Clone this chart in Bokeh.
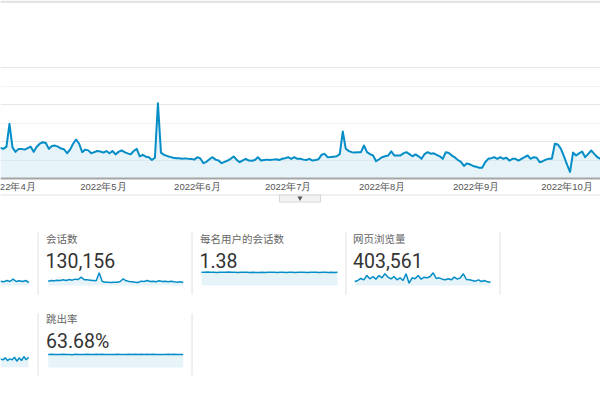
import pandas as pd
from bokeh.plotting import figure
from bokeh.layouts import column
from bokeh.models import Range1d, FixedTicker, Grid, BoxAnnotation, ColumnDataSource, Span
from bokeh.core.properties import value
from bokeh.embed import file_html
from bokeh.resources import INLINE

# ---------------- data ----------------
start_date = "2022-03-28"
users = [
    415, 400, 430, 739,
    420, 360, 400, 400, 390, 410, 430, 360, 430, 470,
    490, 480, 400, 440, 445, 430, 405, 395, 341, 390,
    470, 527, 470, 356, 390, 380, 341, 356, 371, 365,
    350, 371, 341, 371, 326, 360, 380, 356, 340, 326,
    371, 401, 300, 320, 295, 288, 250, 280, 1017, 350,
    320, 305, 292, 280, 275, 273, 268, 272, 268, 265,
    255, 288, 270, 207, 225, 260, 288, 255, 243, 207,
    225, 243, 266, 297, 252, 220, 245, 266, 243, 240,
    250, 288, 243, 250, 255, 250, 255, 260, 250, 266,
    275, 288, 266, 288, 266, 266, 255, 250, 266, 243,
    250, 260, 320, 333, 288, 290, 295, 300, 330, 635,
    401, 370, 356, 350, 356, 356, 446, 356, 330, 311,
    234, 260, 288, 300, 311, 367, 311, 311, 311, 340,
    356, 330, 300, 325, 300, 266, 330, 356, 335, 340,
    320, 300, 266, 356, 345, 310, 285, 250, 225, 170,
    205, 190, 170, 160, 145, 145, 220, 266, 275, 288,
    266, 288, 266, 280, 243, 266, 266, 243, 266, 290,
    311, 266, 288, 280, 220, 234, 255, 266, 266, 470,
    460, 400, 300, 190, 90, 350, 311, 340, 365, 288,
    333, 378, 333, 290, 266,
]
month_ticks = ["2022-04-01", "2022-05-01", "2022-06-01", "2022-07-01",
               "2022-08-01", "2022-09-01", "2022-10-01"]
month_labels = ["2022年4月", "2022年5月", "2022年6月", "2022年7月",
                "2022年8月", "2022年9月", "2022年10月"]
y_grid_major = [500, 1000, 1500]
y_grid_minor = [250, 750, 1250]

metric_titles = ["会话数", "每名用户的会话数", "网页浏览量", "跳出率"]
metric_values = ["130,156", "1.38", "403,561", "63.68%"]

users_spark_tail = [338, 286, 390, 312, 494, 312, 364, 312, 390, 234]
sessions_spark = [478, 552, 515, 589, 552, 626, 552, 662, 589, 699, 662, 920,
                  626, 626, 589, 552, 515, 1398, 442, 368, 368, 331, 368, 368,
                  442, 736, 515, 442, 405, 368, 331, 478, 442, 552, 442, 478,
                  405, 515, 442, 478, 405, 478, 405, 368, 405, 331]
spu_spark = [1.39, 1.38, 1.40, 1.38, 1.39, 1.37, 1.38, 1.39, 1.38, 1.40, 1.39,
             1.38, 1.37, 1.38, 1.39, 1.38, 1.37, 1.38, 1.36, 1.37, 1.38, 1.37,
             1.38, 1.39, 1.38, 1.37, 1.38, 1.38, 1.37, 1.39, 1.38, 1.37, 1.38,
             1.39, 1.38, 1.37, 1.38, 1.39, 1.38, 1.37, 1.38, 1.39, 1.37, 1.38,
             1.37, 1.38]
pv_spark = [720, 900, 1260, 1020, 1800, 1200, 1620, 1140, 1800, 1380, 2100,
            1500, 1200, 1620, 1020, 1380, 900, 2100, 420, 1380, 1200, 1800,
            1140, 1500, 1380, 1620, 2280, 1260, 1380, 1140, 1020, 1200, 1020,
            1500, 1140, 1380, 2100, 1080, 1020, 900, 780, 1020, 720, 900, 660,
            600]
duration_spark_tail = [100, 88, 112, 80, 100, 88, 120, 72, 112, 80, 128, 88, 120]
bounce_spark = [63.5, 64.2, 63.1, 64.0, 63.6, 64.5, 63.2, 63.9, 62.8, 64.3,
                63.5, 64.1, 63.0, 64.6, 63.4, 63.8, 64.2, 63.1, 64.4, 63.6,
                63.0, 64.1, 63.7, 64.5, 63.3, 64.0, 63.6, 64.8, 63.2, 64.2,
                63.5, 65.0, 63.4, 64.3, 63.1, 64.6, 63.8, 63.2, 64.1, 63.5,
                64.4, 63.0, 64.2, 63.6, 64.0, 63.4]

# ---------------- styles / layout ----------------
W = 600
H_MAIN = 192
H_BOTTOM = 208
BLUE = "#058dc7"
FILL_ALPHA = 0.1

APR1_PX = 12.0            # page x of the April tick
PX_PER_DAY = 3.03
BASE_PX = 178.0           # page y of the zero line
GRID_PX = 37.0            # pixels per 500
LABEL_PX = 186.0          # page y of month label centres
UNITS_PER_PX = 500.0 / GRID_PX

apr1 = pd.Timestamp("2022-04-01")
x_start = apr1 - pd.Timedelta(days=APR1_PX / PX_PER_DAY)
x_end = apr1 + pd.Timedelta(days=(W - APR1_PX) / PX_PER_DAY)
y_top = BASE_PX * UNITS_PER_PX
y_bottom = -(H_MAIN - BASE_PX) * UNITS_PER_PX

dates = pd.date_range(start_date, periods=len(users), freq="D")
src = ColumnDataSource(dict(date=dates, users=users))

p = figure(width=W, height=H_MAIN, x_axis_type="datetime",
           x_range=Range1d(x_start, x_end), y_range=Range1d(y_bottom, y_top),
           x_axis_location=None, y_axis_location=None,
           output_backend="svg", toolbar_location=None, min_border=0)
p.outline_line_color = None
p.background_fill_color = "white"
p.border_fill_color = "white"
p.xgrid.visible = False
p.ygrid.visible = False

grid = Grid(dimension=1,
            ticker=FixedTicker(ticks=y_grid_major, minor_ticks=y_grid_minor),
            grid_line_color="#e6e6e6", grid_line_width=1,
            minor_grid_line_color="#f3f3f3", minor_grid_line_width=1)
p.add_layout(grid)

p.add_layout(BoxAnnotation(bottom=y_top - 2.5 * UNITS_PER_PX, top=y_top,
                           fill_color="#e3e3e3", fill_alpha=1.0, line_color=None))

p.varea(x="date", y1=0, y2="users", source=src, fill_color=BLUE, fill_alpha=FILL_ALPHA)
p.line(x="date", y="users", source=src, line_color=BLUE, line_width=2,
       line_join="round")

# zero line (x axis baseline)
p.add_layout(Span(location=0, dimension="width", line_color="#a6a6a6", line_width=2))

# month labels placed on the date scale (clipped by the frame like the original)
tick_dates = pd.to_datetime(month_ticks)
lab_src = ColumnDataSource(dict(x=tick_dates,
                                y=[-(LABEL_PX - BASE_PX) * UNITS_PER_PX] * len(tick_dates),
                                t=month_labels))
p.text(x="x", y="y", text="t", source=lab_src, text_align="center",
       text_baseline="middle", text_font=value("Liberation Sans"),
       text_font_size="9.5px", text_color="#555555")

# ---------------- bottom panel (pixel space) ----------------
q = figure(width=W, height=H_BOTTOM, x_range=Range1d(0, W),
           y_range=Range1d(H_MAIN + H_BOTTOM, H_MAIN),
           x_axis_location=None, y_axis_location=None,
           output_backend="svg", toolbar_location=None, min_border=0)
q.outline_line_color = None
q.background_fill_color = "white"
q.border_fill_color = "white"
q.xgrid.visible = False
q.ygrid.visible = False

# separator under chart + toggle tab
q.segment(x0=[0], y0=[194.5], x1=[W], y1=[194.5], line_color="#e2e2e2", line_width=1)
q.quad(left=[279], right=[320], top=[194.5], bottom=[201.5],
       fill_color="#f3f3f3", line_color="#d6d6d6", line_width=1)
q.scatter(x=[299.5], y=[197.5], marker="inverted_triangle", size=5,
          fill_color="#555555", line_color=None)

# column separators
sep_x = [37.5, 191.5, 345.5, 499.5, 37.5, 191.5]
sep_y0 = [232, 232, 232, 232, 313, 313]
sep_y1 = [294, 294, 294, 294, 375, 375]
q.segment(x0=sep_x, y0=sep_y0, x1=sep_x, y1=sep_y1, line_color="#e0e0e0", line_width=1)

# titles and values
q.text(x=[45.5, 199.5, 352.5, 45.5], y=[237.5, 237.5, 237.5, 318],
       text=metric_titles, text_font=value("Noto Sans CJK SC"),
       text_font_size="10.5px", text_color="#666666", text_baseline="middle")
q.text(x=[45, 199, 352.5, 45.5], y=[260, 260, 260, 340.5],
       text=metric_values, text_font=value("Roboto"),
       text_font_size="19.5px", text_color="#333333", text_baseline="middle")


def spark(name, vals, px_left, px_right, py_zero, ref_val, py_ref):
    n = len(vals)
    kx = (n - 1) / (px_right - px_left)
    q.extra_x_ranges[name] = Range1d(0 - px_left * kx, (n - 1) + (W - px_right) * kx)
    ky = ref_val / (py_zero - py_ref)
    y_lo = H_MAIN + H_BOTTOM
    y_hi = H_MAIN
    q.extra_y_ranges[name] = Range1d((py_zero - y_lo) * ky, (py_zero - y_hi) * ky)
    s = ColumnDataSource(dict(i=list(range(n)), v=vals))
    q.varea(x="i", y1=0, y2="v", source=s, fill_color=BLUE, fill_alpha=FILL_ALPHA,
            x_range_name=name, y_range_name=name)
    q.line(x="i", y="v", source=s, line_color=BLUE, line_width=1.5,
           x_range_name=name, y_range_name=name)


spark("users_tail", users_spark_tail, 0, 28.3, 285, 1013, 272)
spark("sessions", sessions_spark, 47.7, 182.7, 285, 1398, 272.3)
spark("spu", spu_spark, 201, 337, 285, 1.38, 271.8)
spark("pv", pv_spark, 354.3, 490, 285, 2280, 272.3)
spark("duration_tail", duration_spark_tail, 0, 28, 366.7, 180, 351.7)
spark("bounce", bounce_spark, 47.7, 182.7, 367, 66, 353.5)

layout = column(p, q, spacing=0)
open("out.html", "w").write(file_html(layout, INLINE))
